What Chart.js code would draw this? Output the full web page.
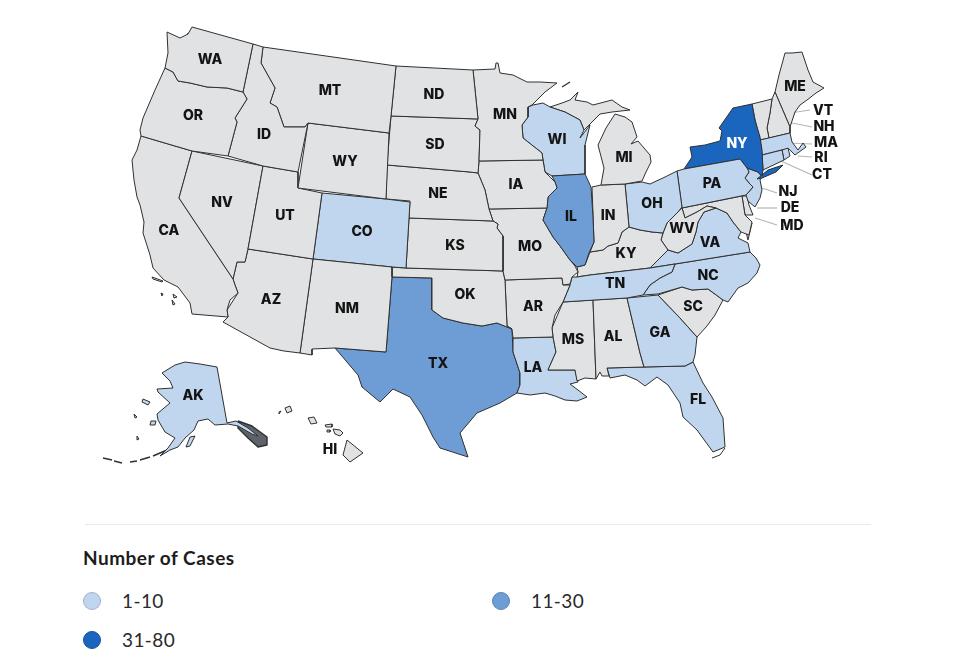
<!DOCTYPE html>
<html lang="en">
<head>
<meta charset="UTF-8">
<title>Number of Cases by State</title>
<script src="https://cdn.jsdelivr.net/npm/chart.js"></script>
<style>
    body { margin: 0; background: #fff; font-family: Lato, "Open Sans", sans-serif; color: #1c1c1c; }
    #wrap { position: relative; width: 960px; height: 669px; overflow: hidden; }
    #mapBox { position: absolute; left: 0; top: 0; width: 960px; height: 500px; }
    #divider { position: absolute; left: 85px; top: 524px; width: 786px; height: 1px; background: #e9e9e9; }
    #legendTitle { position: absolute; left: 83px; top: 547px; font-size: 19px; font-weight: 700; line-height: 22px; letter-spacing: 0.5px; }
    .item { position: absolute; font-size: 19px; line-height: 22px; color: #2a2a2a; letter-spacing: 0.4px; }
    .dot { position: absolute; width: 16px; height: 16px; border-radius: 50%; border: 1px solid; box-sizing: content-box; }
</style>
</head>
<body>
<div id="wrap">
    <div id="mapBox"><canvas id="map"></canvas></div>
    <div id="divider"></div>
    <div id="legendTitle">Number of Cases</div>
    <div id="legendItems"></div>
</div>
<script>
// state outlines, in map units
const WA = [[167,32],[180,38],[188,34],[192,27],[253,44],[243,92],[227,88],[207,87],[190,83],[178,81],[173,72],[165,68],[168,53]];
const OR = [[165,68],[173,72],[178,81],[190,83],[207,87],[227,88],[243,92],[247,99],[235,118],[237,122],[228,156],[192,151],[141,136],[140,130],[143,118],[155,90]];
const ID = [[253,44],[263,47],[261,63],[275,88],[270,103],[277,107],[284,127],[305,127],[308,123],[298,172],[263,166],[228,156],[237,122],[235,118],[247,99],[243,92]];
const MT = [[263,47],[396,66],[391,116],[389,133],[308,123],[305,127],[284,127],[277,107],[270,103],[275,88],[261,63]];
const WY = [[308,123],[389,133],[386,199],[298,188]];
const UT = [[263,166],[298,172],[298,188],[322,193],[313,259],[248,249]];
const NV = [[192,151],[263,166],[248,249],[245,262],[237,262],[233,279],[179,198]];
const CA = [[141,136],[192,151],[179,198],[233,279],[235,285],[238,293],[230,300],[227,310],[228,317],[192,314],[190,303],[178,287],[164,280],[153,268],[150,255],[143,233],[144,222],[140,205],[137,197],[134,180],[132,160],[137,150]];
const AZ = [[248,249],[313,259],[300,353],[284,351],[270,348],[223,322],[228,317],[227,310],[238,293],[235,285],[233,279],[237,262],[245,262]];
const NM = [[313,259],[392,267],[392,277],[386,352],[335,348],[312,349],[312,355],[300,353]];
const CO = [[322,193],[386,199],[410,202],[406,268],[392,267],[313,259]];
const ND = [[396,66],[473,70],[478,119],[391,116]];
const MN = [[473,70],[495,69],[496,63],[498,63],[500,73],[513,75],[527,82],[540,82],[557,83],[545,92],[532,105],[528,107],[528,117],[522,125],[523,138],[542,153],[543,160],[479,161],[480,130],[475,126],[478,119]];
const SD = [[391,116],[478,119],[475,126],[480,130],[479,161],[478,173],[470,172],[458,171],[387,165]];
const NE = [[387,165],[458,171],[470,172],[478,173],[485,190],[489,209],[493,221],[409,218],[410,201],[386,199]];
const KS = [[409,218],[493,221],[498,224],[497,228],[503,236],[503,271],[406,268]];
const IA = [[479,161],[543,160],[545,172],[555,182],[557,188],[548,197],[547,208],[489,209],[485,190],[478,173]];
const IL = [[552,176],[585,174],[591,187],[593,217],[594,242],[589,253],[585,265],[577,267],[570,260],[560,246],[553,237],[543,220],[547,208],[548,197],[557,188],[555,182]];
const WI = [[528,107],[533,105],[543,103],[550,107],[565,112],[580,120],[584,130],[580,138],[590,125],[585,145],[585,174],[552,176],[545,172],[543,160],[542,153],[523,138],[522,125],[528,117]];
const MI_UP = [[550,107],[562,103],[570,100],[578,92],[575,100],[587,102],[593,105],[612,100],[622,107],[630,110],[612,112],[600,114],[592,122],[584,130],[580,120],[565,112]];
const MI = [[615,114],[625,117],[632,122],[637,137],[631,144],[638,141],[650,155],[651,162],[646,172],[642,181],[625,184],[601,185],[604,168],[598,145],[606,128]];
const IN = [[592,187],[601,185],[625,184],[629,227],[622,232],[618,243],[608,246],[603,250],[590,252],[594,242]];
const OH = [[625,184],[642,182],[650,184],[665,177],[677,171],[682,207],[678,212],[667,223],[663,233],[652,232],[640,230],[629,227]];
const PA = [[677,171],[684,169],[740,159],[747,168],[749,172],[745,178],[749,183],[753,187],[746,195],[682,208]];
const NY = [[684,169],[692,157],[690,147],[705,145],[720,141],[722,131],[719,128],[733,108],[752,104],[755,120],[760,137],[762,150],[763,170],[762,176],[758,172],[747,168],[740,159]];
const LONG_ISLAND = [[757,179],[768,170],[783,165],[776,172],[762,178]];
const NJ = [[747,168],[758,172],[762,177],[760,180],[762,190],[760,198],[755,207],[748,201],[746,195],[753,187],[749,183],[745,178],[749,172]];
const CT = [[762,155],[782,150],[784,160],[763,170]];
const RI = [[782,150],[788,148],[790,156],[784,160]];
const MA = [[760,140],[790,133],[792,142],[798,150],[803,143],[806,147],[795,155],[789,149],[782,150],[762,155]];
const VT = [[752,104],[772,99],[770,113],[767,128],[769,138],[760,140],[755,120]];
const NH = [[772,99],[775,92],[790,127],[790,133],[769,138],[767,128],[770,113]];
const ME = [[775,92],[779,75],[785,53],[792,53],[802,52],[808,70],[813,82],[824,88],[816,93],[807,100],[800,105],[795,112],[790,127]];
const MO = [[489,209],[547,208],[543,220],[553,237],[560,246],[570,260],[575,266],[578,272],[572,277],[570,284],[563,285],[562,278],[505,280],[503,271],[503,236],[497,228],[498,224],[493,221]];
const OK = [[392,267],[406,268],[503,271],[505,280],[507,326],[512,329],[497,323],[482,326],[463,323],[443,318],[432,310],[432,278],[392,277]];
const AR = [[505,280],[562,278],[563,285],[570,285],[563,302],[555,315],[552,328],[553,337],[513,338],[512,329],[507,326]];
const TN = [[577,277],[590,275],[650,268],[675,264],[672,272],[660,278],[650,285],[643,295],[627,298],[563,302],[570,285],[572,277]];
const KY = [[590,252],[603,250],[608,246],[618,243],[622,232],[629,227],[640,230],[652,232],[663,233],[661,240],[668,250],[650,268],[590,275],[577,277],[578,272],[577,267],[585,265]];
const WV = [[663,233],[667,223],[678,212],[682,208],[685,218],[697,212],[707,206],[716,208],[704,212],[698,222],[696,232],[692,244],[678,253],[668,250],[661,240]];
const MD = [[682,208],[742,196],[745,215],[752,222],[749,235],[741,232],[733,222],[727,213],[716,208],[707,206],[697,212],[685,218]];
const DE = [[742,196],[747,196],[749,205],[753,215],[745,215]];
const VA = [[668,250],[678,253],[692,244],[696,232],[698,222],[704,212],[716,208],[727,213],[733,222],[741,232],[738,238],[748,243],[750,252],[675,264],[650,268]];
const NC = [[675,264],[750,252],[756,258],[760,265],[757,273],[748,283],[738,288],[733,295],[728,302],[723,300],[708,289],[692,290],[682,287],[658,294],[643,295],[650,285],[660,278],[672,272]];
const SC = [[658,295],[682,287],[692,290],[708,289],[723,300],[715,315],[707,326],[697,337],[680,318]];
const GA = [[627,298],[658,295],[680,318],[697,337],[695,355],[693,362],[685,366],[644,367],[640,353]];
const AL = [[593,300],[627,298],[640,353],[644,367],[607,368],[609,376],[602,376],[600,372],[596,379]];
const MS = [[563,302],[593,300],[596,379],[585,378],[577,381],[575,370],[548,370],[556,352],[553,337],[552,328]];
const LA = [[513,338],[553,337],[556,352],[548,370],[575,370],[578,382],[570,384],[578,390],[587,397],[577,401],[565,400],[555,396],[545,393],[530,395],[517,393],[520,385],[520,373],[513,352]];
const TX = [[392,277],[432,278],[432,310],[443,318],[463,323],[482,326],[497,323],[512,329],[513,352],[520,373],[520,385],[517,393],[500,403],[477,413],[460,433],[468,457],[440,448],[433,437],[422,415],[410,397],[393,389],[380,402],[362,387],[358,375],[335,348],[386,352],[392,277]];
const FL = [[607,368],[644,367],[685,366],[693,362],[703,383],[712,397],[723,418],[725,447],[713,452],[697,430],[683,417],[680,403],[668,385],[657,377],[645,386],[637,380],[625,375],[610,378]];
const AK = [[217,367],[227,423],[236,421],[248,428],[258,436],[252,434],[238,426],[228,424],[215,425],[208,419],[198,421],[194,430],[185,438],[178,447],[170,450],[160,456],[168,448],[175,438],[165,432],[158,420],[157,414],[170,403],[158,392],[157,389],[173,388],[170,381],[162,373],[175,365],[185,362],[200,364]];
const HI = [[347,440],[363,453],[350,462],[343,455]];

// small islands and water, kept apart from the states they go with
const VA_SHORE = [[752,223],[748,240],[746,232]];
const AK_PANHANDLE = [[238,421],[252,426],[267,437],[267,445],[258,447],[248,438],[238,428]];
const AK_ISLES = [[[143,399],[150,402],[148,405],[142,402]],[[151,421],[156,421],[155,425],[150,425]],[[134,414],[137,417],[135,418]],[[137,436],[139,439],[137,440]],[[190,437],[195,436],[190,446],[186,447]]];
const ALEUTIANS = [[[103,458],[112,460]],[[114,461],[122,463]],[[130,462],[137,461]],[[140,460],[150,457]],[[153,456],[167,450]]];
const HI_ISLES = [[[333,429],[340,430],[343,433],[340,436],[335,434]],[[308,418],[314,417],[317,423],[311,424]],[[285,408],[290,406],[292,411],[287,413]],[[325,425],[332,424],[332,427],[326,427]],[[327,430],[330,430],[330,432],[327,432]],[[279,412],[281,411],[279,414]]];
const CA_ISLES = [[[152,277],[163,281],[162,282],[153,279]],[[161,293],[163,294],[162,296]],[[173,294],[177,297],[174,298]],[[172,300],[175,304],[173,305]]];
const PUGET = [[188,33],[187,42],[182,50],[180,56],[184,56],[189,46]];
const ISLE_ROYALE = [[562,87],[570,82]];
const FL_KEYS = [[725,448],[720,455],[712,458]];
const BAY_WEST = [[737,205],[733,213],[738,222],[741,230]];
const BAY_EAST = [[742,205],[743,218],[746,228]];

const outlines = { WA, OR, ID, MT, WY, UT, NV, CA, AZ, NM, CO, ND, MN, SD, NE, KS, IA, IL, WI, MI_UP, MI, IN, OH, PA, NY, LONG_ISLAND, NJ, CT, RI, MA, VT, NH, ME, MO, OK, AR, TN, KY, WV, MD, DE, VA, VA_SHORE, NC, SC, GA, AL, MS, LA, TX, FL, AK, HI };

// case bands, everything else has no cases
const bandLabels = ['1-10', '11-30', '31-80'];
const bandColors = ['#c0d5ee', '#6e9dd5', '#1a66bf'];
const bandBorders = ['#a3b3c9', '#5a84b4', '#15559f'];
const band1States = ['AK', 'WI', 'CO', 'LA', 'FL', 'GA', 'TN', 'NC', 'VA', 'VA_SHORE', 'OH', 'PA', 'NJ', 'MA', 'CT', 'RI'];
const band2States = ['TX', 'IL'];
const band3States = ['NY', 'LONG_ISLAND'];
const noCaseColor = '#e1e2e3';

const labelCodes = ['WA','OR','ID','MT','ND','SD','WY','NV','UT','CA','CO','AZ','NM','NE','KS','OK','TX','MN','IA','MO','AR','LA','WI','IL','IN','MI','OH','KY','TN','MS','AL','GA','FL','SC','NC','VA','WV','PA','NY','ME','VT','NH','MA','RI','CT','NJ','DE','MD','AK','HI'];
const labelX = [210,193,264,330,434,435,345,222,285,169,362,271,347,438,455,465,438,505,516,530,533,533,557,571,608,624,652,626,615,573,613,660,698,693,708,710,682,712,737,795,823,824,826,821,822,788,790,792,193,330];
const labelY = [59,115,134,90,94,144,161,202,215,230,231,299,308,193,245,294,363,114,184,246,306,367,139,216,215,157,203,253,283,339,336,332,399,306,275,242,228,183,143,86,110,126,142,157,174,191,207,225,395,449];

// leader lines from the small states out to their labels
const leaders = [
    [[763,117],[810,110]],
    [[777,120],[812,127]],
    [[787,143],[812,144]],
    [[798,156],[812,157]],
    [[772,157],[812,175]],
    [[762,188],[777,193]],
    [[757,208],[777,208]],
    [[755,218],[777,225]]
];

function colorFor(code) {
    if (band3States.includes(code)) return bandColors[2];
    if (band2States.includes(code)) return bandColors[1];
    if (band1States.includes(code)) return bandColors[0];
    return noCaseColor;
}

function closed(points) {
    return points.concat([points[0]]).map(p => ({ x: p[0], y: p[1] }));
}

function shape(points, fillColor, width) {
    return { data: closed(points), showLine: true, fill: 'shape', backgroundColor: fillColor, borderColor: '#303030', borderWidth: width, pointRadius: 0, tension: 0, borderJoinStyle: 'round' };
}

function stroke(points, color, width) {
    return { data: points.map(p => ({ x: p[0], y: p[1] })), showLine: true, fill: false, borderColor: color, borderWidth: width, pointRadius: 0, tension: 0 };
}

const datasets = [];
Object.keys(outlines).forEach(code => datasets.push(shape(outlines[code], colorFor(code), 1)));
datasets.push(shape(PUGET, '#ffffff', 1.4));
datasets.push(shape(AK_PANHANDLE, '#5f6268', 1.4));
AK_ISLES.forEach(p => datasets.push(shape(p, bandColors[0], 1)));
CA_ISLES.forEach(p => datasets.push(shape(p, noCaseColor, 1)));
HI_ISLES.forEach(p => datasets.push(shape(p, noCaseColor, 1)));
ALEUTIANS.forEach(p => datasets.push(stroke(p, '#303030', 1.5)));
datasets.push(stroke(FL_KEYS, '#303030', 1));
datasets.push(stroke(ISLE_ROYALE, '#303030', 1.4));
datasets.push(stroke(BAY_WEST, '#303030', 1.2));
datasets.push(stroke(BAY_EAST, '#303030', 1.2));
leaders.forEach(p => datasets.push(stroke(p, '#b5b5b5', 1.2)));

// state codes are drawn on top of the finished map
const stateLabels = {
    id: 'stateLabels',
    afterDatasetsDraw(chart) {
        const { ctx, scales } = chart;
        ctx.save();
        ctx.font = '800 14px Inter, sans-serif';
        ctx.textAlign = 'center';
        ctx.textBaseline = 'middle';
        labelCodes.forEach((code, i) => {
            ctx.fillStyle = code === 'NY' ? '#ffffff' : '#141414';
            ctx.fillText(code, scales.x.getPixelForValue(labelX[i]), scales.y.getPixelForValue(labelY[i]) + 0.5);
        });
        ctx.restore();
    }
};

new Chart(document.getElementById('map'), {
    type: 'scatter',
    data: { datasets: datasets },
    plugins: [stateLabels],
    options: {
        responsive: true,
        maintainAspectRatio: false,
        animation: false,
        layout: { padding: 0 },
        plugins: { legend: { display: false }, tooltip: { enabled: false } },
        scales: {
            x: { type: 'linear', min: 0, max: 960, display: false },
            y: { type: 'linear', min: 0, max: 500, reverse: true, display: false }
        }
    }
});

// legend
const legendSpots = [[92, 601], [501, 601], [92, 640]];
const legendBox = document.getElementById('legendItems');
bandLabels.forEach((label, i) => {
    const [cx, cy] = legendSpots[i];
    legendBox.innerHTML += `<span class="dot" style="left:${cx - 9}px;top:${cy - 9}px;background:${bandColors[i]};border-color:${bandBorders[i]}"></span>` +
        `<span class="item" style="left:${cx + 30}px;top:${cy - 11}px">${label}</span>`;
});
</script>
</body>
</html>
